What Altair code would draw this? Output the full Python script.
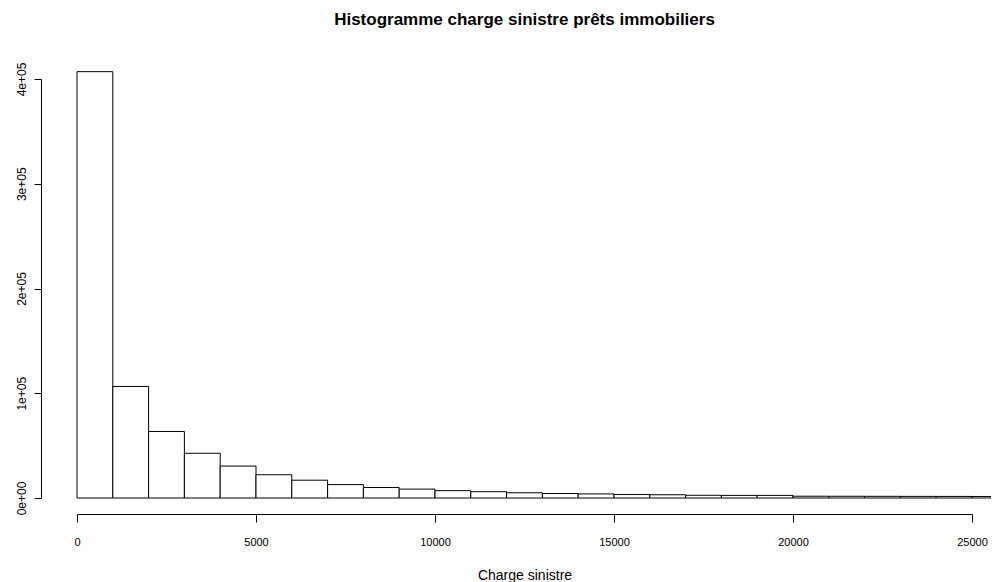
import altair as alt
import pandas as pd

# Histogram bins (left edges, width 1000) and counts
bin_start = [0, 1000, 2000, 3000, 4000, 5000, 6000, 7000, 8000, 9000,
             10000, 11000, 12000, 13000, 14000, 15000, 16000, 17000, 18000, 19000,
             20000, 21000, 22000, 23000, 24000, 25000]
counts = [407000, 106500, 63500, 42700, 30500, 22200, 17000, 12800, 10000, 8500,
          7000, 6000, 5000, 4300, 3900, 3300, 3100, 2600, 2500, 2500,
          1700, 1650, 1600, 1550, 1500, 1450]
bin_width = 1000

x_ticks = [0, 5000, 10000, 15000, 20000, 25000]
y_ticks = [0, 100000, 200000, 300000, 400000]

df = pd.DataFrame({
    "start": bin_start,
    "end": [s + bin_width for s in bin_start],
    "count": counts,
})

FONT = "Liberation Sans"

bars = alt.Chart(df).mark_rect(
    fill="white", stroke="black", strokeWidth=1
).encode(
    x=alt.X("start:Q",
            scale=alt.Scale(domain=[0, 25000], nice=False, zero=True),
            axis=alt.Axis(values=x_ticks, format="d", title="Charge sinistre",
                          offset=16, grid=False, domain=True, domainColor="black",
                          tickColor="black", tickSize=8, labelPadding=14,
                          labelBaseline="top", labelFlush=False, labelOverlap=False,
                          labelFont=FONT, labelFontSize=11, labelColor="black",
                          titleFont=FONT, titleFontSize=14, titleFontWeight="normal",
                          titleColor="black", titleBaseline="alphabetic", titleY=65)),
    x2="end:Q",
    y=alt.Y("count:Q",
            scale=alt.Scale(domain=[0, 400000], nice=False),
            axis=alt.Axis(values=y_ticks, title=None, offset=36, grid=False,
                          domain=True, domainColor="black", tickColor="black",
                          tickSize=7, labelAngle=270, labelAlign="center",
                          labelBaseline="bottom", labelPadding=6, labelFlush=False,
                          labelOverlap=False, labelFont=FONT, labelFontSize=12,
                          labelColor="black",
                          labelExpr="datum.value == 0 ? '0e+00' : format(datum.value/100000, 'd') + 'e+05'")),
    y2=alt.datum(0),
)

chart = bars.properties(
    width=895,
    height=419,
    padding={"left": 69, "top": 71, "right": 19, "bottom": 84},
    autosize=alt.AutoSizeParams(type="none"),
    title=alt.TitleParams(
        "Histogramme charge sinistre prêts immobiliers",
        font=FONT, fontSize=17, fontWeight="bold", color="black",
        anchor="middle", offset=33,
    ),
).configure(background="white", view=alt.ViewConfig(stroke=None))

chart.save("out.html", embed_options={"renderer": "svg", "actions": False})
